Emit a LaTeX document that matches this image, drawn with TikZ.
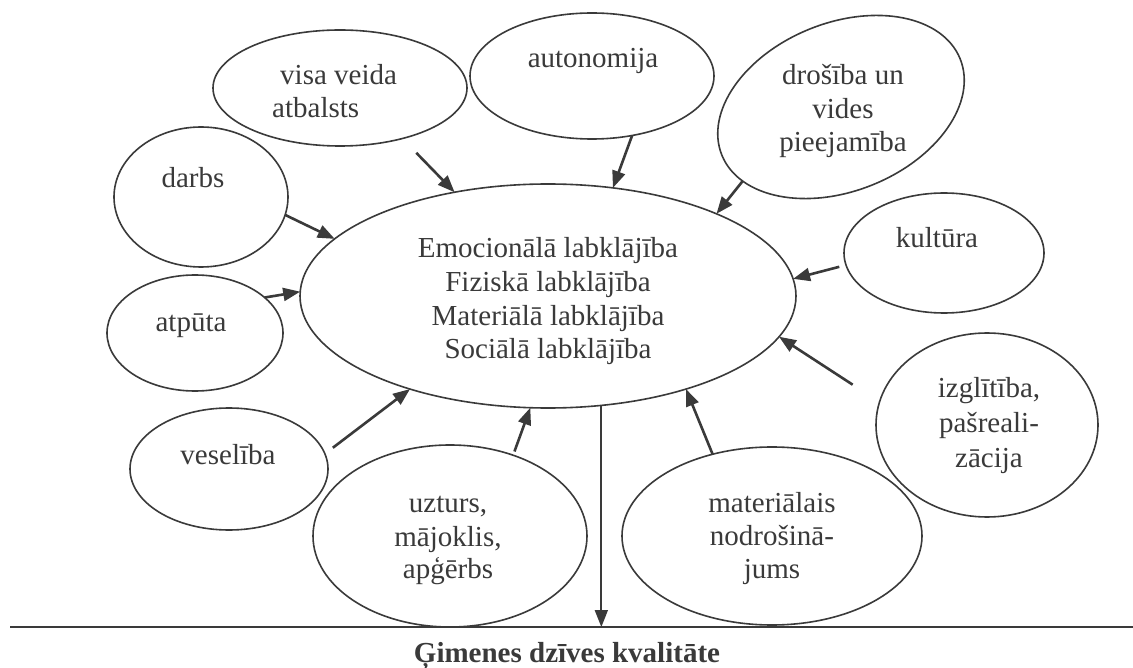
\documentclass[tikz,border=0pt]{standalone}
\usepackage{fontspec}
\setmainfont{Liberation Serif}
\usetikzlibrary{shapes.geometric,arrows.meta}
\definecolor{ink}{HTML}{3A3A3A}
\begin{document}
\begin{tikzpicture}[x=1pt,y=-1pt,
  oval/.style={draw=ink, line width=1.6pt, ellipse, inner sep=0pt, outer sep=0pt},
  txt/.style={text=ink, font=\fontsize{29}{34}\selectfont, anchor=base, inner sep=0pt},
  arr/.style={draw=ink, line width=2.6pt, -{Triangle[length=17pt,width=13pt]}},
]
\useasboundingbox[fill=white] (0,0) rectangle (1133,668);

% ellipses
\node[oval, minimum width=496pt, minimum height=224pt] (C) at (548,296) {};
\node[oval, minimum width=254pt, minimum height=116pt] (visa) at (340,88) {};
\node[oval, minimum width=244pt, minimum height=126pt] (auto) at (592,76) {};
\node[oval, minimum width=257pt, minimum height=168pt, rotate=22] (dros) at (841,107) {};
\node[oval, minimum width=174pt, minimum height=140pt] (darbs) at (201,197) {};
\node[oval, minimum width=200pt, minimum height=120pt] (kult) at (944,253) {};
\node[oval, minimum width=176pt, minimum height=116pt] (atp) at (195,333) {};
\node[oval, minimum width=222pt, minimum height=184pt] (izgl) at (987,425) {};
\node[oval, minimum width=198pt, minimum height=122pt] (ves) at (229,469) {};
\node[oval, minimum width=274pt, minimum height=182pt] (uzt) at (450,536) {};
\node[oval, minimum width=300pt, minimum height=178pt] (mat) at (772,536) {};

% labels
\node[txt] (c1) at (548,258) {Emocionālā labklājība};
\node[txt] (c2) at (548,292) {Fiziskā labklājība};
\node[txt] (c3) at (548,326) {Materiālā labklājība};
\node[txt] (c4) at (548,359) {Sociālā labklājība};

\node[txt, anchor=base west] (visa1) at (280,85) {visa veida};
\node[txt, anchor=base west] (visa2) at (272,118) {atbalsts};
\node[txt] (auto1) at (593,68) {autonomija};
\node[txt] (dros1) at (843,85) {drošība un};
\node[txt] (dros2) at (843,119) {vides};
\node[txt] (dros3) at (843,152) {pieejamība};
\node[txt] (darbs1) at (193,188) {darbs};
\node[txt] (kult1) at (937,248) {kultūra};
\node[txt] (atp1) at (191,332) {atpūta};
\node[txt] (izgl1) at (989,397) {izglītība,};
\node[txt] (izgl2) at (989,432) {pašreali-};
\node[txt] (izgl3) at (989,467) {zācija};
\node[txt] (ves1) at (228,464) {veselība};
\node[txt] (uzt1) at (448,512) {uzturs,};
\node[txt] (uzt2) at (448,546) {mājoklis,};
\node[txt] (uzt3) at (448,578) {apģērbs};
\node[txt] (mat1) at (772,512) {materiālais};
\node[txt] (mat2) at (772,545) {nodrošinā-};
\node[txt] (mat3) at (772,578) {jums};

% base line and result
\coordinate (baseL) at (10,627);
\coordinate (baseR) at (1133,627);
\draw[ink, line width=2pt] (baseL) -- (baseR);
\node[txt, font=\fontsize{29}{34}\selectfont\bfseries] (title) at (567,662) {Ģimenes dzīves kvalitāte};

% influences
\draw[arr, shorten <=20pt] (visa.-39) -- (C.132);
\draw[arr] (auto.-56) -- (C.59);
\draw[arr] (dros.-165) -- (C.26);
\draw[arr, shorten <=7pt] (kult.-173) -- (C.4);
\draw[arr, shorten <=32pt] (izgl.168) -- (C.-10);
\draw[arr] (mat.126) -- (C.-34);
\draw[arr, shorten <=4pt] (uzt.52) -- (C.-99);
\draw[arr, shorten <=10pt] (ves.9) -- (C.-146);
\draw[arr] (atp.27) -- (C.179);
\draw[arr] (darbs.-12) -- (C.165);
\draw[arr, line width=1.8pt] (C.-64) -- (C.-64 |- baseL);
\end{tikzpicture}
\end{document}
